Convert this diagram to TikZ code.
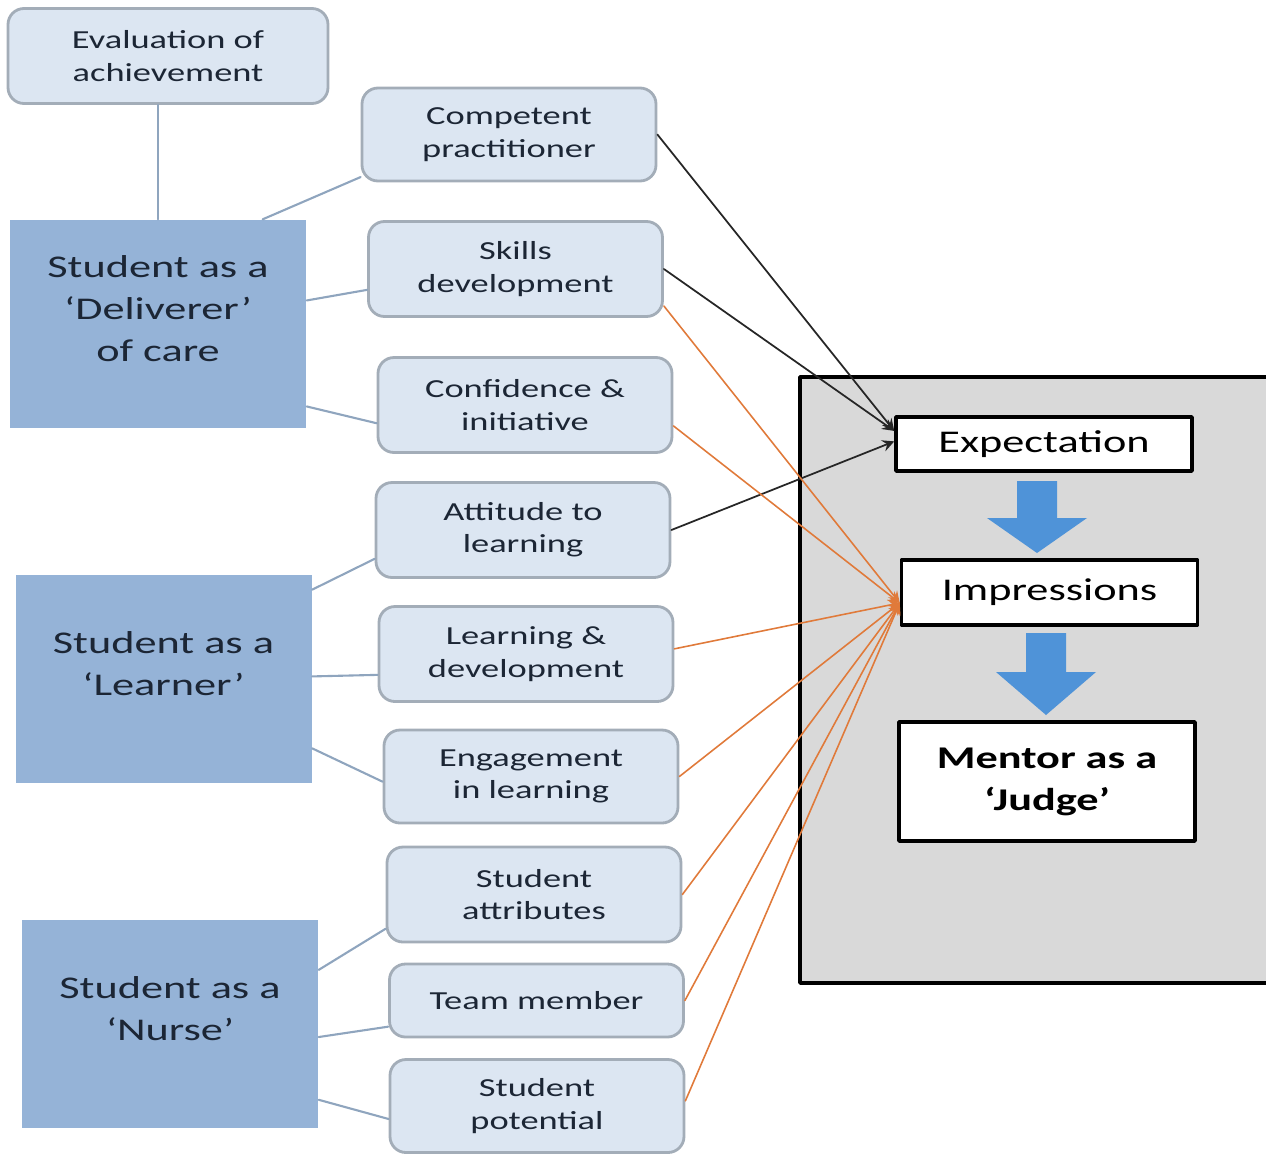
\documentclass[tikz,border=0pt]{standalone}
\usepackage{fontspec}
\setmainfont{Carlito}[FakeStretch=1.4]
\definecolor{subfill}{HTML}{DCE6F2}
\definecolor{subline}{HTML}{A3ADB8}
\definecolor{rolefill}{HTML}{95B3D7}
\definecolor{linkgray}{HTML}{8FA5BE}
\definecolor{panelgray}{HTML}{D9D9D9}
\definecolor{arrowblue}{HTML}{4F93D8}
\definecolor{orangeline}{HTML}{E07A3A}
\definecolor{textnavy}{HTML}{1C2635}
\begin{document}
\begin{tikzpicture}[x=0.1mm,y=-0.1mm,>=stealth, line join=round, line cap=round,
    sub/.style={draw=subline,line width=0.8pt,fill=subfill,rounded corners=1.6mm,minimum width=29.4mm,minimum height=9.5mm,align=center,text=textnavy,font=\fontsize{7.4}{9.2}\selectfont,inner sep=0pt},
    role/.style={fill=rolefill,minimum width=29.6mm,minimum height=20.8mm,align=center,text=textnavy,text depth=9pt,font=\fontsize{9}{11.9}\selectfont},
    stage/.style={draw,line width=1pt,fill=white,minimum width=29.6mm,align=center,font=\fontsize{9}{11.9}\selectfont},
    link/.style={linkgray,line width=0.6pt},
    expline/.style={->,black!85,line width=0.5pt},
    impline/.style={->,orangeline,line width=0.45pt}]
    \useasboundingbox (0,0) rectangle (1266,1153);
    \clip (0,0) rectangle (1266,1153);
    \def\blockdown(#1,#2,#3,#4){\fill[arrowblue] (#1-20,#2) -- (#1+20,#2) -- (#1+20,#3) -- (#1+50,#3) -- (#1,#4) -- (#1-50,#3) -- (#1-20,#3) -- cycle;}
    % panel
    \draw[fill=panelgray,line width=1pt] (800,377) rectangle (1290,983);
    \node[stage,minimum height=5.4mm] (exp) at (1044,444) {Expectation};
    \node[stage,minimum height=6.5mm] (imp) at (1049.5,592.5) {Impressions};
    \node[stage,minimum height=11.9mm,font=\bfseries\fontsize{9}{11.9}\selectfont] (judge) at (1047,781.5) {Mentor as a\\‘Judge’};
    \blockdown(1037,481,518,553)
    \blockdown(1046,633,672,715)
    % roles
    \node[role] (deliv) at (158,324) {Student as a\\‘Deliverer’\\of care};
    \node[role] (learner) at (163.5,679) {Student as a\\‘Learner’};
    \node[role] (nurse) at (170,1024) {Student as a\\‘Nurse’};
    % themes
    \node[sub,minimum width=32mm] (eval) at (168,56) {Evaluation of\\achievement};
    \node[sub,minimum height=9.3mm] (comp) at (509,134.5) {Competent\\practitioner};
    \node[sub] (skills) at (515.5,269) {Skills\\development};
    \node[sub] (conf) at (525,405) {Confidence \&\\initiative};
    \node[sub] (att) at (523,530) {Attitude to\\learning};
    \node[sub] (learn) at (526,654) {Learning \&\\development};
    \node[sub,minimum height=9.3mm] (engage) at (531,776.5) {Engagement\\in learning};
    \node[sub] (attr) at (534,894.5) {Student\\attributes};
    \node[sub,minimum height=7.3mm] (team) at (536.5,1000.5) {Team member};
    \node[sub,minimum height=9.3mm] (pot) at (537,1106) {Student\\potential};
    % links
    \draw[link] (eval.south -| deliv.north) -- (deliv.north);
    \draw[link] (deliv.45) -- (comp.196);
    \draw[link] (deliv.9) -- (skills.188);
    \draw[link] (deliv.-29) -- (conf.187);
    \draw[link] (learner.31) -- (att.191);
    \draw[link] (learner.1) -- (learn.188);
    \draw[link] (learner.-25) -- (engage.182);
    \draw[link] (nurse.20) -- (attr.193);
    \draw[link] (nurse.-5) -- (team.190);
    \draw[link] (nurse.-27) -- (pot.185);
    % to expectation
    \draw[expline] (comp.east) -- (exp.175);
    \draw[expline] (skills.east) -- (exp.175);
    \draw[expline] (att.east) -- (exp.179);
    % to impressions
    \draw[impline] (skills.-14) -- (imp.184);
    \draw[impline] (conf.-8) -- (imp.184);
    \draw[impline] (learn.2) -- (imp.184);
    \draw[impline] (engage.east) -- (imp.184);
    \draw[impline] (attr.east) -- (imp.184);
    \draw[impline] (team.east) -- (imp.184);
    \draw[impline] (pot.2) -- (imp.184);
\end{tikzpicture}
\end{document}
